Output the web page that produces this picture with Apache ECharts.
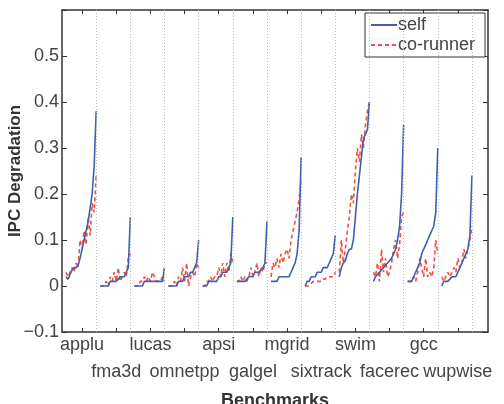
<!DOCTYPE html>
<html>
<head>
<meta charset="utf-8">
<script src="https://cdn.jsdelivr.net/npm/echarts@6/dist/echarts.min.js"></script>
<style>
  html, body { margin: 0; padding: 0; background: #fff; }
  #main { width: 504px; height: 404px; }
</style>
</head>
<body>
<div id="main"></div>
<script>
// benchmarks, in plot order
var benchmarks = ['applu', 'fma3d', 'lucas', 'omnetpp', 'apsi', 'galgel',
                  'mgrid', 'sixtrack', 'swim', 'facerec', 'gcc', 'wupwise'];

// IPC degradation, 16 runs per benchmark (sorted by self)
var selfDeg = [
  [0.02, 0.015, 0.025, 0.035, 0.04, 0.04, 0.045, 0.06, 0.08, 0.1, 0.12, 0.14, 0.17, 0.2, 0.26, 0.38],
  [0, 0, 0, 0, 0, 0.01, 0.01, 0.01, 0.01, 0.015, 0.02, 0.02, 0.02, 0.03, 0.04, 0.15],
  [0, 0, 0, 0, 0, 0.01, 0.01, 0.01, 0.01, 0.01, 0.01, 0.01, 0.01, 0.01, 0.01, 0.04],
  [0, 0, 0, 0, 0, 0.01, 0.01, 0.01, 0.02, 0.02, 0.02, 0.03, 0.03, 0.04, 0.05, 0.1],
  [0, 0, 0, 0.01, 0.01, 0.01, 0.01, 0.01, 0.02, 0.02, 0.03, 0.03, 0.03, 0.04, 0.05, 0.15],
  [0.01, 0.01, 0.01, 0.01, 0.01, 0.015, 0.02, 0.02, 0.02, 0.03, 0.03, 0.03, 0.035, 0.04, 0.05, 0.14],
  [0.01, 0.01, 0.01, 0.01, 0.02, 0.02, 0.02, 0.02, 0.02, 0.02, 0.03, 0.04, 0.05, 0.07, 0.12, 0.28],
  [0, 0.01, 0.01, 0.02, 0.02, 0.02, 0.03, 0.03, 0.03, 0.04, 0.04, 0.04, 0.05, 0.06, 0.07, 0.11],
  [0.02, 0.04, 0.05, 0.055, 0.07, 0.08, 0.08, 0.1, 0.15, 0.2, 0.24, 0.28, 0.32, 0.33, 0.34, 0.4],
  [0.01, 0.02, 0.025, 0.03, 0.035, 0.04, 0.045, 0.05, 0.055, 0.06, 0.07, 0.08, 0.1, 0.13, 0.2, 0.35],
  [0.01, 0.01, 0.01, 0.02, 0.03, 0.04, 0.05, 0.07, 0.08, 0.09, 0.1, 0.11, 0.12, 0.13, 0.16, 0.3],
  [0, 0.01, 0.01, 0.01, 0.015, 0.02, 0.02, 0.02, 0.03, 0.04, 0.05, 0.06, 0.07, 0.08, 0.11, 0.24]
];
var coRunnerDeg = [
  [0.03, 0.02, 0.03, 0.04, 0.03, 0.05, 0.04, 0.1, 0.08, 0.12, 0.09, 0.15, 0.11, 0.18, 0.16, 0.24],
  [0, 0, 0, 0.01, 0, 0.02, 0.01, 0.03, 0.01, 0.04, 0.01, 0.02, 0.03, 0.02, 0.06, 0.07],
  [0, 0, 0, 0.01, 0.01, 0.02, 0.01, 0.02, 0.01, 0.03, 0.02, 0.01, 0.01, 0.01, 0.02, 0.01],
  [0, 0, 0, 0.01, 0, 0.02, 0.01, 0.04, 0.01, 0.05, 0, 0.02, 0.03, 0.02, 0.05, 0.04],
  [0, 0, 0.01, 0.01, 0.02, 0.01, 0.02, 0.02, 0.04, 0.02, 0.05, 0.02, 0.05, 0.03, 0.07, 0.05],
  [0.01, 0.01, 0.02, 0.01, 0.02, 0.01, 0.02, 0.04, 0.02, 0.03, 0.05, 0.02, 0.04, 0.03, 0.05, 0.05],
  [0.02, 0.05, 0.04, 0.06, 0.04, 0.07, 0.05, 0.07, 0.08, 0.06, 0.1, 0.12, 0.14, 0.16, 0.19, 0.23],
  [0, 0, 0, 0.005, 0.01, 0.01, 0.01, 0.01, 0.01, 0.015, 0.015, 0.02, 0.02, 0.02, 0.02, 0.03],
  [0.03, 0.1, 0.05, 0.08, 0.12, 0.15, 0.2, 0.18, 0.25, 0.3, 0.27, 0.33, 0.3, 0.35, 0.38, 0.4],
  [0.03, 0.02, 0.05, 0.01, 0.08, 0.03, 0.06, 0.02, 0.03, 0.05, 0.08, 0.1, 0.06, 0.09, 0.15, 0.16],
  [0.01, 0.01, 0.01, 0.02, 0.01, 0.03, 0.06, 0.04, 0.02, 0.06, 0.02, 0.03, 0.02, 0.04, 0.1, 0.07],
  [0.02, 0.01, 0.02, 0.03, 0.02, 0.03, 0.04, 0.03, 0.06, 0.04, 0.05, 0.08, 0.06, 0.08, 0.1, 0.13]
];

var yTicks = [-0.1, 0, 0.1, 0.2, 0.3, 0.4, 0.5];

var runs = 16;          // points per benchmark
var period = runs + 1;  // one empty slot between benchmarks

// flatten groups into [x, y] pairs, with a gap after each group
function flatten(groups) {
  var out = [];
  groups.forEach(function (g, gi) {
    g.forEach(function (v, i) { out.push([gi * period + i, v]); });
    out.push([gi * period + runs, '-']);
  });
  return out;
}

var centers = [], bounds = [], rowA = [], rowB = [];
benchmarks.forEach(function (b, i) {
  var c = i * period + (runs - 1) / 2 + 0.5;
  centers.push(c);
  (i % 2 ? rowB : rowA).push(c);
  bounds.push(i * period + runs - 1);
});
function nameAt(v) {
  var i = centers.indexOf(v);
  return i < 0 ? '' : benchmarks[i];
}

var font = 'Liberation Sans, Arial, Helvetica, sans-serif';
var frame = { onZero: false, lineStyle: { color: '#333', width: 1.5 } };
var tickStyle = { color: '#333' };
var myChart = echarts.init(document.getElementById('main'));

myChart.setOption({
  animation: false,
  textStyle: { fontFamily: font },
  grid: { left: 62, right: 16, top: 10, bottom: 72, outerBoundsMode: 'none', containLabel: false },
  legend: {
    orient: 'vertical',
    left: 365, top: 13,
    width: 122,
    padding: [3, 10, 3, 5],
    itemGap: 2,
    itemWidth: 26,
    itemHeight: 14,
    borderColor: '#333',
    borderWidth: 1,
    backgroundColor: '#fff',
    itemStyle: { opacity: 0 },
    textStyle: { fontSize: 18, color: '#444', padding: [0, 0, 0, -4] },
    data: ['self', 'co-runner']
  },
  xAxis: [{
    type: 'value',
    min: -2, max: 210,
    position: 'bottom',
    axisLine: frame,
    axisTick: { inside: true, length: 4, customValues: centers, lineStyle: tickStyle },
    axisLabel: {
      customValues: rowA,
      hideOverlap: false, showMinLabel: true, showMaxLabel: true,
      color: '#444', fontSize: 18, margin: 4,
      formatter: nameAt
    },
    splitLine: { show: false },
    name: 'Benchmarks',
    nameLocation: 'middle',
    nameGap: 60,
    nameMoveOverlap: false,
    nameTextStyle: { fontSize: 18, fontWeight: 'bold', color: '#333' }
  }, {
    type: 'value',
    min: -2, max: 210,
    position: 'top',
    axisLine: frame,
    axisTick: { inside: true, length: 4, customValues: centers, lineStyle: tickStyle },
    axisLabel: { show: false },
    splitLine: { show: false }
  }, {
    type: 'value',
    min: -2, max: 210,
    position: 'bottom',
    axisLine: { show: false, onZero: false },
    axisTick: { show: false },
    axisLabel: {
      customValues: rowB,
      hideOverlap: false, showMinLabel: true, showMaxLabel: true,
      color: '#444', fontSize: 18, margin: 31,
      formatter: nameAt
    },
    splitLine: { show: false }
  }],
  yAxis: [{
    type: 'value',
    min: -0.1, max: 0.6, interval: 0.1,
    position: 'left',
    axisLine: { show: true, onZero: false, lineStyle: { color: '#333', width: 1.5 } },
    axisTick: { show: true, inside: true, length: 5, lineStyle: tickStyle },
    axisLabel: {
      color: '#444', fontSize: 18, margin: 3,
      showMinLabel: true, showMaxLabel: true,
      formatter: function (v) {
        v = Math.round(v * 10) / 10;
        if (yTicks.indexOf(v) < 0) return '';
        if (v === 0) return '0';
        return v < 0 ? '\u2212' + Math.abs(v).toFixed(1) : v.toFixed(1);
      }
    },
    splitLine: { show: false },
    name: 'IPC Degradation',
    nameLocation: 'middle',
    nameGap: 38,
    nameMoveOverlap: false,
    nameTextStyle: { fontSize: 17, fontWeight: 'bold', color: '#333' }
  }, {
    type: 'value',
    min: -0.1, max: 0.6, interval: 0.1,
    position: 'right',
    axisLine: { show: true, onZero: false, lineStyle: { color: '#333', width: 1.5 } },
    axisTick: { show: true, inside: true, length: 5, lineStyle: tickStyle },
    axisLabel: { show: false },
    splitLine: { show: false }
  }],
  series: [
    {
      name: 'self',
      type: 'line',
      symbol: 'none',
      data: flatten(selfDeg),
      lineStyle: { color: '#3f5fb0', width: 1.6 },
      itemStyle: { color: '#3f5fb0' },
      z: 3,
      markLine: {
        silent: true,
        symbol: 'none',
        label: { show: false },
        lineStyle: { color: '#bbb', type: [1, 2], width: 1 },
        data: bounds.map(function (b) { return { xAxis: b }; })
      }
    },
    {
      name: 'co-runner',
      type: 'line',
      symbol: 'none',
      data: flatten(coRunnerDeg),
      lineStyle: { color: '#f0503c', width: 1.6, type: [4, 3] },
      itemStyle: { color: '#f0503c' },
      z: 2
    }
  ]
});
</script>
</body>
</html>
